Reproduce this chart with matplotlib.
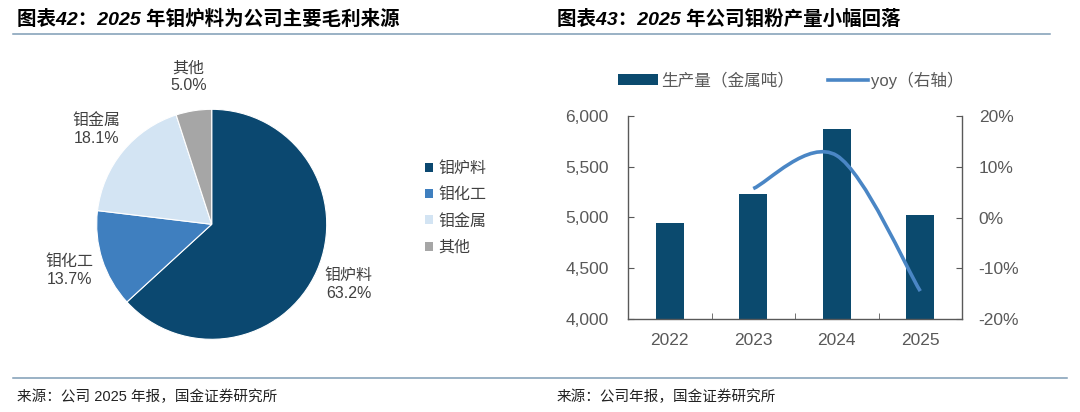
import numpy as np
import matplotlib
matplotlib.use("Agg")
import matplotlib.pyplot as plt
from matplotlib.path import Path
from matplotlib.patches import PathPatch, Patch
from matplotlib.lines import Line2D
from matplotlib.ticker import FuncFormatter, PercentFormatter

plt.rcParams['font.family'] = ['Liberation Sans', 'Noto Sans CJK SC']
plt.rcParams['axes.unicode_minus'] = False

# ---- data ----
pie_names = ["钼炉料", "钼化工", "钼金属", "其他"]
pie_share = [63.2, 13.7, 18.1, 5.0]
pie_colors = ["#0b4870", "#3f7fbf", "#d3e4f3", "#a6a6a6"]

years = ["2022", "2023", "2024", "2025"]
output_t = [4950, 5230, 5870, 5020]
yoy = [None, 0.057, 0.122, -0.145]

W, H = 1080, 412
fig = plt.figure(figsize=(W / 100, H / 100), dpi=100)
fig.patch.set_facecolor("white")

def fx(px):
    return px / W

def fy(py):
    return 1 - py / H

TXT = "#404040"
AX = "#595959"

# ---- titles, rules, sources ----
fig.text(fx(17), fy(19), "图表42：2025 年钼炉料为公司主要毛利来源", fontsize=14,
         fontweight="bold", style="italic", va="center", ha="left", color="black")
fig.text(fx(557), fy(19), "图表43：2025 年公司钼粉产量小幅回落", fontsize=14,
         fontweight="bold", style="italic", va="center", ha="left", color="black")
fig.add_artist(Line2D([fx(13), fx(1050)], [fy(34), fy(34)], color="#7f9cb5", lw=1.1))
fig.add_artist(Line2D([fx(13), fx(1067)], [fy(378), fy(378)], color="#7f9cb5", lw=1.1))
fig.text(fx(17), fy(397), "来源：公司 2025 年报，国金证券研究所", fontsize=10.5,
         va="center", ha="left", color="#222222")
fig.text(fx(557), fy(397), "来源：公司年报，国金证券研究所", fontsize=10.5,
         va="center", ha="left", color="#222222")

# ---- pie ----
cx, cy, R = 211.7, 224.3, 115
axp = fig.add_axes([fx(cx - R), fy(cy + R), 2 * R / W, 2 * R / H])
labels = [f"{n}\n{v:.1f}%" for n, v in zip(pie_names, pie_share)]
wedges, texts = axp.pie(pie_share, colors=pie_colors, startangle=90, counterclock=False,
                        labels=labels, labeldistance=1.3, radius=1,
                        wedgeprops=dict(edgecolor="white", linewidth=0.8),
                        textprops=dict(fontsize=11.5, color=TXT, linespacing=1.25))
for t in texts:
    t.set_ha("center")
    t.set_va("center")
axp.set_xlim(-1, 1)
axp.set_ylim(-1, 1)
axp.set_aspect("equal")
axp.axis("off")

pie_handles = [Patch(facecolor=c, edgecolor="none") for c in pie_colors]
fig.legend(pie_handles, pie_names, loc="center left", bbox_to_anchor=(fx(411), fy(208)),
           frameon=False, fontsize=11.5, handlelength=0.5, handleheight=0.5,
           handletextpad=0.3, labelspacing=0.7, labelcolor=TXT)

# ---- bar + line ----
ax = fig.add_axes([fx(628), fy(319), 334 / W, 203 / H])
x = np.arange(len(years))
ax.bar(x, output_t, width=0.33, color="#0b4a6e", zorder=2)
ax.set_xlim(-0.5, 3.5)
ax.set_ylim(4000, 6000)
ax.set_yticks([4000, 4500, 5000, 5500, 6000])
ax.yaxis.set_major_formatter(FuncFormatter(lambda v, p: f"{int(v):,}"))
ax.set_xticks(x)
ax.set_xticklabels(years)
ax.set_xticks([0.5, 1.5, 2.5], minor=True)
ax.tick_params(axis="x", which="major", length=0, pad=10, labelsize=12.5, labelcolor=AX)
ax.tick_params(axis="x", which="minor", length=4, direction="in", color=AX)
ax.tick_params(axis="y", length=4, direction="in", color=AX, pad=14,
               labelsize=12.5, labelcolor=AX)
for s in ["left", "bottom"]:
    ax.spines[s].set_color(AX)
    ax.spines[s].set_linewidth(1.0)
ax.spines["top"].set_visible(False)
ax.spines["right"].set_visible(False)

ax2 = ax.twinx()
ax2.set_ylim(-0.2, 0.2)
ax2.set_yticks([-0.2, -0.1, 0, 0.1, 0.2])
ax2.yaxis.set_major_formatter(PercentFormatter(1.0, decimals=0))
ax2.tick_params(axis="y", length=4, direction="in", color=AX, pad=12,
                labelsize=12.5, labelcolor=AX)
ax2.spines["right"].set_color(AX)
ax2.spines["right"].set_linewidth(1.0)
for s in ["top", "left", "bottom"]:
    ax2.spines[s].set_visible(False)

# smoothed yoy line (Catmull-Rom as Bezier segments, like Excel's smoothed line)
pts = np.array([[i, v] for i, v in enumerate(yoy) if v is not None], dtype=float)
verts = [tuple(pts[0])]
codes = [Path.MOVETO]
n = len(pts)
for i in range(n - 1):
    p0 = pts[max(i - 1, 0)]
    p1 = pts[i]
    p2 = pts[i + 1]
    p3 = pts[min(i + 2, n - 1)]
    c1 = p1 + (p2 - p0) / 6
    c2 = p2 - (p3 - p1) / 6
    verts += [tuple(c1), tuple(c2), tuple(p2)]
    codes += [Path.CURVE4] * 3
ax2.add_patch(PathPatch(Path(verts, codes), fill=False, edgecolor="#4a86c5",
                        lw=2.6, capstyle="butt", zorder=3))

bar_handles = [Patch(facecolor="#0b4a6e", edgecolor="none"),
               Line2D([0], [0], color="#4a86c5", lw=2.6)]
fig.legend(bar_handles, ["生产量（金属吨）", "yoy（右轴）"], loc="center",
           bbox_to_anchor=(fx(791), fy(80)), ncol=2, frameon=False, fontsize=12,
           handlelength=2.4, handleheight=0.6, handletextpad=0.2, columnspacing=2.0,
           labelcolor=AX)

fig.savefig("out.png", dpi=100, facecolor="white")
